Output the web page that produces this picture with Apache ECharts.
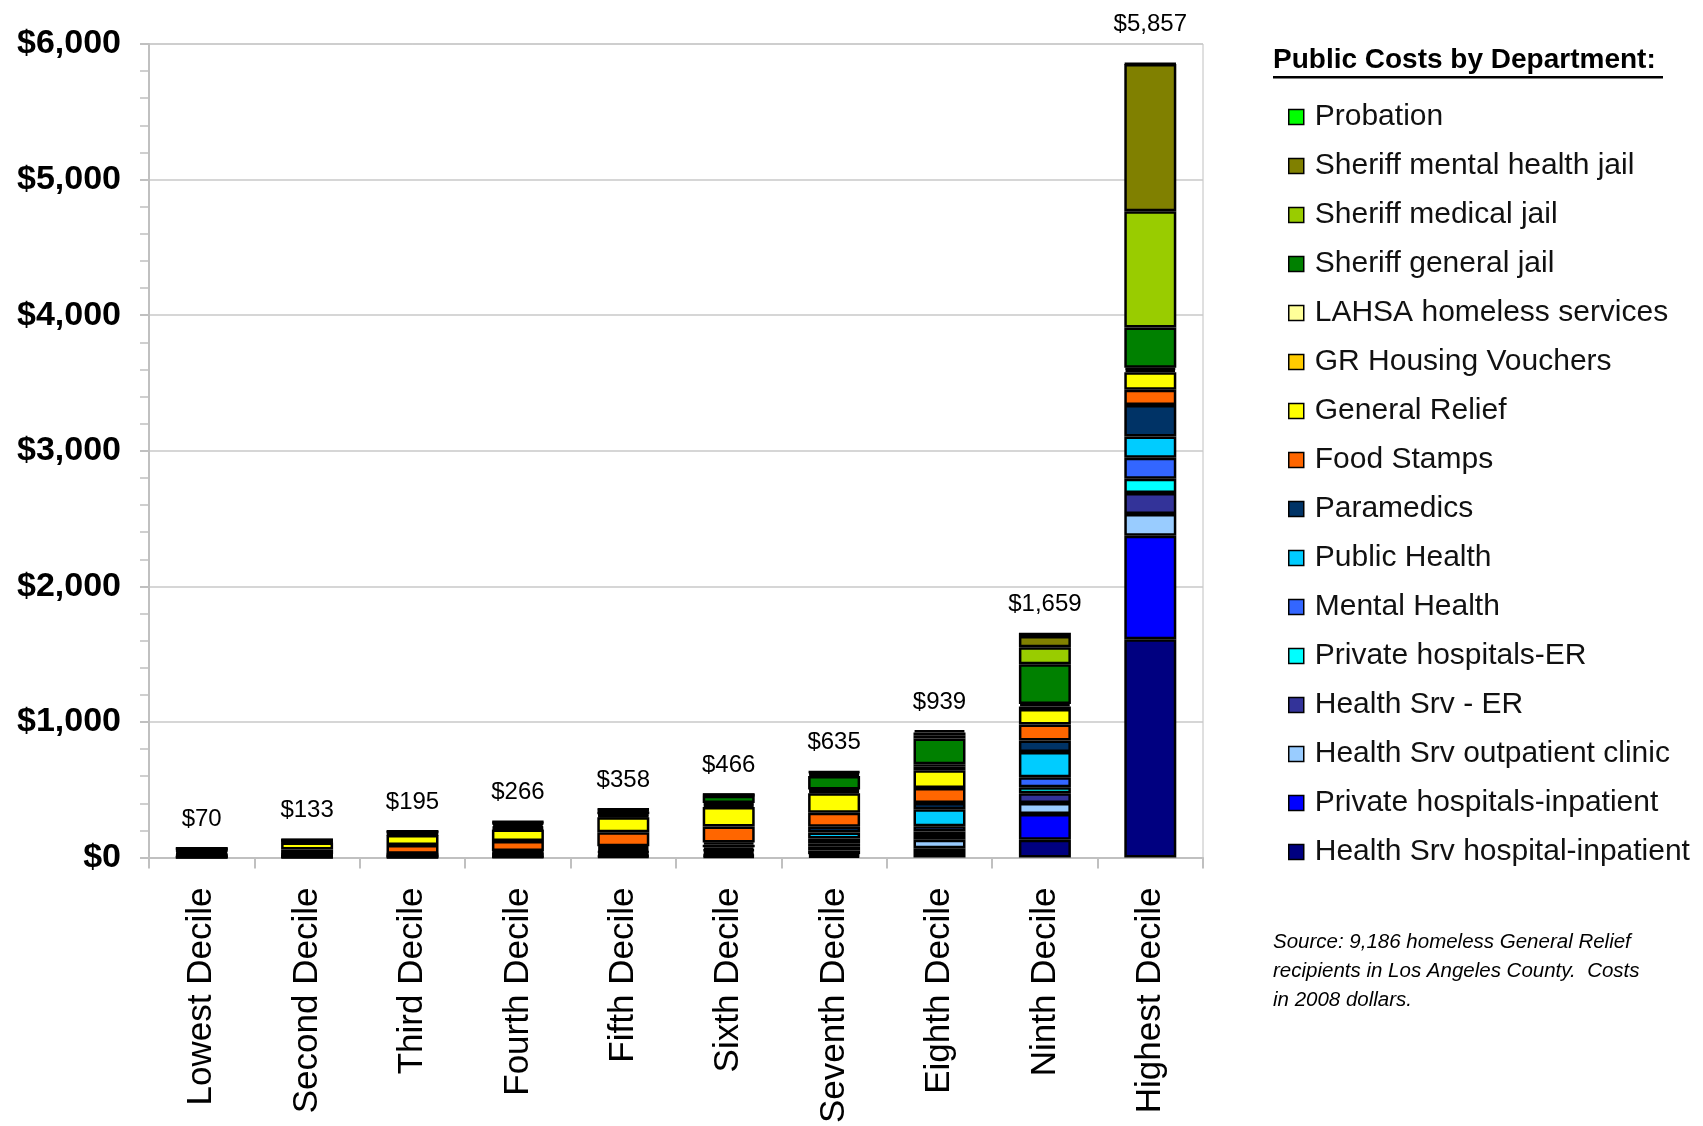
<!DOCTYPE html>
<html>
<head>
<meta charset="utf-8">
<script src="https://cdn.jsdelivr.net/npm/echarts@6/dist/echarts.min.js"></script>
<style>html,body{margin:0;padding:0;background:#fff;}#c{width:1703px;height:1126px;}</style>
</head>
<body>
<div id="c"></div>
<script>
const categories = ['Lowest Decile','Second Decile','Third Decile','Fourth Decile','Fifth Decile','Sixth Decile','Seventh Decile','Eighth Decile','Ninth Decile','Highest Decile'];
const yTicks = [0, 1000, 2000, 3000, 4000, 5000, 6000];

// stack order bottom -> top
const hsHospitalInpatient = [2, 3, 3, 5, 8, 10, 12, 34, 132, 1610];
const privateInpatient    = [2, 2, 3, 4, 7, 9, 12, 34, 189, 763];
const hsOutpatient        = [4, 3, 4, 6, 10, 14, 29, 64, 81, 161];
const hsER                = [4, 3, 4, 7, 12, 17, 30, 35, 73, 154];
const privateER           = [3, 2, 3, 5, 7, 9, 22, 25, 44, 106];
const mentalHealth        = [4, 4, 4, 7, 12, 17, 36, 40, 73, 154];
const publicHealth        = [6, 4, 4, 8, 14, 19, 44, 125, 186, 158];
const paramedics          = [5, 3, 4, 7, 13, 17, 42, 46, 86, 231];
const foodStamps          = [9, 36, 64, 73, 103, 117, 103, 110, 117, 114];
const generalRelief       = [10, 52, 73, 86, 112, 144, 144, 132, 114, 128];
const grHousingVouchers   = [3, 4, 5, 10, 11, 15, 15, 24, 20, 18];
const lahsa               = [4, 4, 5, 10, 10, 14, 14, 20, 17, 15];
const sheriffGeneral      = [6, 6, 10, 18, 20, 54, 98, 189, 293, 297];
const sheriffMedical      = [3, 2, 3, 8, 8, 5, 15, 25, 127, 858];
const sheriffMental       = [3, 3, 4, 7, 7, 3, 12, 20, 83, 1085];
const probation           = [2, 2, 2, 5, 4, 2, 7, 16, 24, 5];

const seriesDefs = [
  ['Health Srv hospital-inpatient', hsHospitalInpatient, '#000080'],
  ['Private hospitals-inpatient', privateInpatient, '#0000FF'],
  ['Health Srv outpatient clinic', hsOutpatient, '#99CCFF'],
  ['Health Srv - ER', hsER, '#333399'],
  ['Private hospitals-ER', privateER, '#00FFFF'],
  ['Mental Health', mentalHealth, '#3366FF'],
  ['Public Health', publicHealth, '#00CCFF'],
  ['Paramedics', paramedics, '#003366'],
  ['Food Stamps', foodStamps, '#FF6600'],
  ['General Relief', generalRelief, '#FFFF00'],
  ['GR Housing Vouchers', grHousingVouchers, '#FFCC00'],
  ['LAHSA homeless services', lahsa, '#FFFF99'],
  ['Sheriff general jail', sheriffGeneral, '#008000'],
  ['Sheriff medical jail', sheriffMedical, '#99CC00'],
  ['Sheriff mental health jail', sheriffMental, '#808000'],
  ['Probation', probation, '#00FF00']
];

const totals = categories.map((_, i) => seriesDefs.reduce((s, d) => s + d[1][i], 0));
const FONT = "'Liberation Sans', Arial, sans-serif";

const series = seriesDefs.map((d, k) => {
  const isTop = k === seriesDefs.length - 1;
  const s = {
    name: d[0], type: 'bar', stack: 'all', barWidth: 52,
    data: isTop ? d[1].map((v, i) => i === d[1].length - 1 ? { value: v, label: { distance: 26 } } : v) : d[1],
    itemStyle: { color: d[2], borderColor: '#000', borderWidth: 2.5 },
    emphasis: { disabled: true }
  };
  if (isTop) {
    s.label = {
      show: true, position: 'top', distance: 16,
      fontFamily: FONT, fontSize: 24, color: '#000',
      formatter: p => '$' + totals[p.dataIndex].toLocaleString('en-US')
    };
  }
  return s;
});

const chart = echarts.init(document.getElementById('c'), null, { renderer: 'canvas' });
chart.setOption({
  backgroundColor: '#fff',
  animation: false,
  grid: { left: 149, right: 500, top: 44, bottom: 259, show: true, borderColor: '#C0C0C0', borderWidth: 1 },
  legend: {
    orient: 'vertical', left: 1283, top: 97,
    data: seriesDefs.map(d => d[0]).reverse(),
    icon: 'rect', itemWidth: 15, itemHeight: 15, itemGap: 19,
    itemStyle: { borderColor: '#000', borderWidth: 1.5 },
    textStyle: { fontFamily: FONT, fontSize: 30, color: '#111', padding: [0, 0, 0, 6] },
    selectedMode: false
  },
  xAxis: {
    type: 'category', data: categories,
    axisLine: { lineStyle: { color: '#C0C0C0', width: 2 } },
    axisTick: { show: true, length: 11, lineStyle: { color: '#C0C0C0', width: 2 } },
    axisLabel: { rotate: 90, margin: 30, fontFamily: FONT, fontSize: 35, color: '#000', interval: 0 }
  },
  yAxis: {
    type: 'value', min: yTicks[0], max: yTicks[yTicks.length - 1], interval: 1000,
    axisLine: { show: true, lineStyle: { color: '#C0C0C0', width: 2 } },
    axisTick: { show: true, length: 9, lineStyle: { color: '#C0C0C0', width: 2 } },
    minorTick: { show: true, splitNumber: 5, length: 9, lineStyle: { color: '#C0C0C0', width: 1.5 } },
    splitLine: { lineStyle: { color: '#C8C8C8', width: 1.5 } },
    axisLabel: { margin: 28, fontFamily: FONT, fontSize: 34, fontWeight: 'bold', color: '#000',
      formatter: v => '$' + v.toLocaleString('en-US') }
  },
  graphic: [
    { type: 'text', left: 1273, top: 46, style: { text: 'Public Costs by Department:', font: "bold 28px 'Liberation Sans', Arial, sans-serif", fill: '#000' } },
    { type: 'rect', left: 1273, top: 76, shape: { width: 390, height: 2.5 }, style: { fill: '#000' } },
    { type: 'text', left: 1273, top: 928, style: {
      text: 'Source: 9,186 homeless General Relief\nrecipients in Los Angeles County.  Costs\nin 2008 dollars.',
      font: "italic 20.5px 'Liberation Sans', Arial, sans-serif", fill: '#000', lineHeight: 29 } }
  ],
  series: series
});
</script>
</body>
</html>
